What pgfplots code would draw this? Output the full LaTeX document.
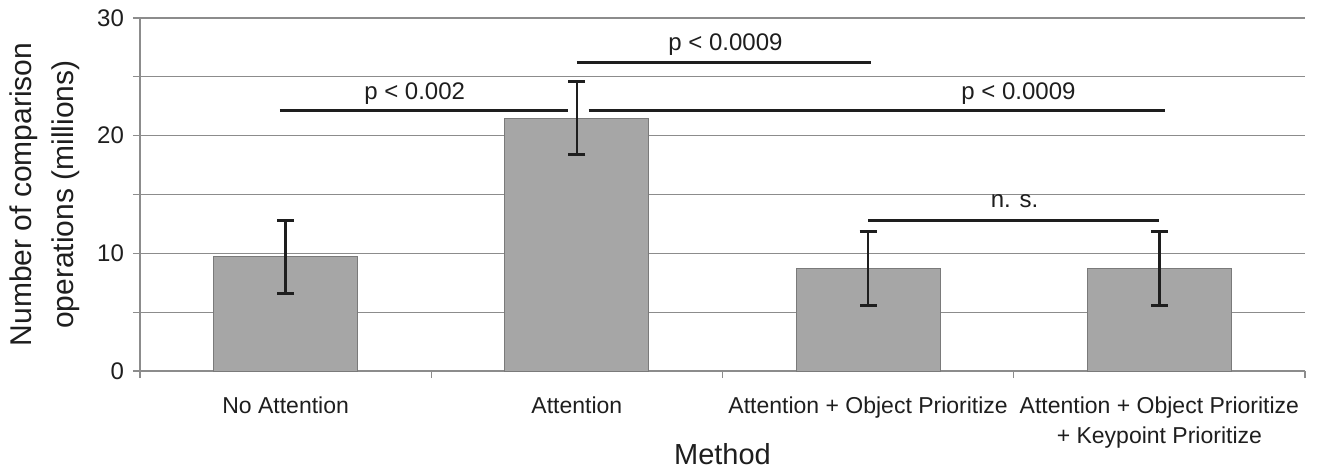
\documentclass[border=0pt]{standalone}
\usepackage{fontspec}
\setmainfont{Liberation Sans}
\usepackage{pgfplots}
\pgfplotsset{compat=1.18}
\definecolor{barfill}{HTML}{A6A6A6}
\definecolor{baredge}{HTML}{7A7A7A}
\definecolor{gridc}{HTML}{8C8C8C}
\definecolor{ink}{HTML}{1E1E1E}
\begin{document}
\begin{tikzpicture}
\begin{axis}[
 scale only axis, width=582.5pt, height=176.5pt,
 xmin=-0.5, xmax=3.5, ymin=0, ymax=30,
 axis x line=bottom, axis y line=left,
 axis line style={-, draw=gridc, line width=0.6pt},
 xtick={-0.5,0.5,1.5,2.5,3.5},
 x tick label as interval,
 xticklabels={No Attention, Attention, Attention + Object Prioritize, {Attention + Object Prioritize\\+ Keypoint Prioritize}},
 ytick={0,10,20,30}, minor ytick={5,15,25},
 ymajorgrids, yminorgrids,
 grid style={draw=gridc, line width=0.6pt},
 minor grid style={draw=gridc, line width=0.6pt},
 tick align=outside,
 major tick length=3.5pt, minor tick length=3.5pt,
 tick style={draw=gridc, line width=0.6pt},
 xticklabel style={font=\fontsize{11.5}{15}\selectfont, align=center, text=ink, yshift=-6pt},
 yticklabel style={font=\fontsize{12}{14}\selectfont, text=ink, xshift=-1pt},
 /pgf/number format/assume math mode=true,
 xlabel={Method},
 xlabel style={font=\fontsize{14.5}{17}\selectfont, text=ink, at={(axis description cs:0.5,-0.236)}, anchor=center},
 ylabel={Number of comparison\\operations (millions)},
 ylabel style={font=\fontsize{15}{21}\selectfont, align=center, text=ink, at={(axis description cs:-0.0815,0.5)}, anchor=center},
]
\addplot[ybar, bar width=72pt, fill=barfill, draw=baredge, line width=0.5pt,
  error bars/.cd, y dir=both, y explicit,
  error bar style={line width=1.3pt, draw=ink},
  error mark options={rotate=90, mark size=4.25pt, line width=1.3pt, draw=ink}]
 coordinates {
 (0,9.7) +- (0,3.1)
 (1,21.5) +- (0,3.1)
 (2,8.7) +- (0,3.15)
 (3,8.7) +- (0,3.15)
 };
\addplot[ink, line width=1.5pt, forget plot] coordinates {(-0.02,22.17) (0.97,22.17)};
\addplot[ink, line width=1.5pt, forget plot] coordinates {(1.04,22.17) (3.02,22.17)};
\addplot[ink, line width=1.5pt, forget plot] coordinates {(1.0,26.25) (2.01,26.25)};
\addplot[ink, line width=1.5pt, forget plot] coordinates {(2.0,12.83) (3.0,12.83)};
\node[anchor=base, font=\fontsize{12}{14}\selectfont, text=ink] at (axis cs:0.443,23.1) {p < 0.002};
\node[anchor=base, font=\fontsize{12}{14}\selectfont, text=ink] at (axis cs:1.51,27.27) {p < 0.0009};
\node[anchor=base, font=\fontsize{12}{14}\selectfont, text=ink] at (axis cs:2.516,23.1) {p < 0.0009};
\node[anchor=base, font=\fontsize{12}{14}\selectfont, text=ink] at (axis cs:2.503,13.93) {n. s.};
\end{axis}
\pgfresetboundingbox
\path ([shift={(-70pt,-50.5pt)}]current axis.south west) rectangle ([shift={(12pt,9pt)}]current axis.north east);
\end{tikzpicture}
\end{document}
